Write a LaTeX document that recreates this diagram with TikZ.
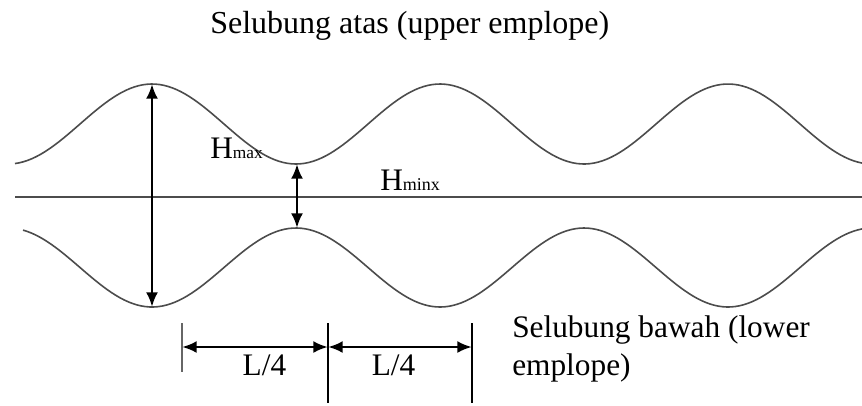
\documentclass[tikz,border=0pt]{standalone}
\usepackage{fontspec}
\setmainfont{Liberation Serif}
\usetikzlibrary{arrows.meta}

\begin{document}
\begin{tikzpicture}[x=0.75pt,y=-0.75pt,
		envline/.style={draw=black!70,line width=1.2pt},
		dimarrow/.style={{Latex[length=11pt,width=9pt]}-{Latex[length=11pt,width=9pt]},line width=2pt},
		bigtext/.style={inner sep=0pt,font=\fontsize{23.5}{28.5}\selectfont}]
		\useasboundingbox (0,0) rectangle (862,405);
		
		\draw[envline] plot[domain=15:862,samples=200] (\x,{124-40*cos((\x-152)/288*360)});  % upper
		\draw[envline] plot[domain=23:862,samples=200] (\x,{267.5+39.5*cos((\x-152)/288*360)});  % lower
		\draw[envline] (15,197) -- (862,197);  % axis
		
		\coordinate (hmaxtop) at (152,84);
		\coordinate (hmaxbot) at (152,307);
		\coordinate (hmintop) at (297,164);
		\coordinate (hminbot) at (297,228);
		\draw[dimarrow] (hmaxtop) -- (hmaxbot);  % H_max
		\draw[dimarrow] (hmintop) -- (hminbot);  % H_min
		
		\node[bigtext,anchor=base west] (hmax) at (210,158) {H{\fontsize{13}{14}\selectfont max}};
		\node[bigtext,anchor=base west] (hmin) at (380,190) {H{\fontsize{13.5}{14}\selectfont minx}};
		
		\node[inner sep=0pt,font=\fontsize{24}{28}\selectfont,anchor=base west] (upper) at (210,33) {Selubung atas (upper emplope)};
		\node[bigtext,anchor=base west] (lowerA) at (512,337) {Selubung bawah (lower};
		\node[bigtext,anchor=base west] (lowerB) at (512,375) {emplope)};
		
		\coordinate (tickA) at (182,323);
		\coordinate (tickAb) at (182,372);
		\coordinate (tickB) at (328,323);
		\coordinate (tickBb) at (328,403);
		\coordinate (tickC) at (472,323);
		\coordinate (tickCb) at (472,403);
		\draw[black!60,line width=0.9pt] (tickA) -- (tickAb);
		\draw[line width=2pt] (tickB) -- (tickBb);
		\draw[line width=2pt] (tickC) -- (tickCb);
		\draw[dimarrow] (182,347) -- (328,347);  % L/4
		\draw[dimarrow] (328,347) -- (472,347);  % L/4
		\node[bigtext,anchor=base] (qa) at (264.5,375) {L/4};
		\node[bigtext,anchor=base] (qb) at (393.5,375) {L/4};
		
	\end{tikzpicture}
\end{document}
